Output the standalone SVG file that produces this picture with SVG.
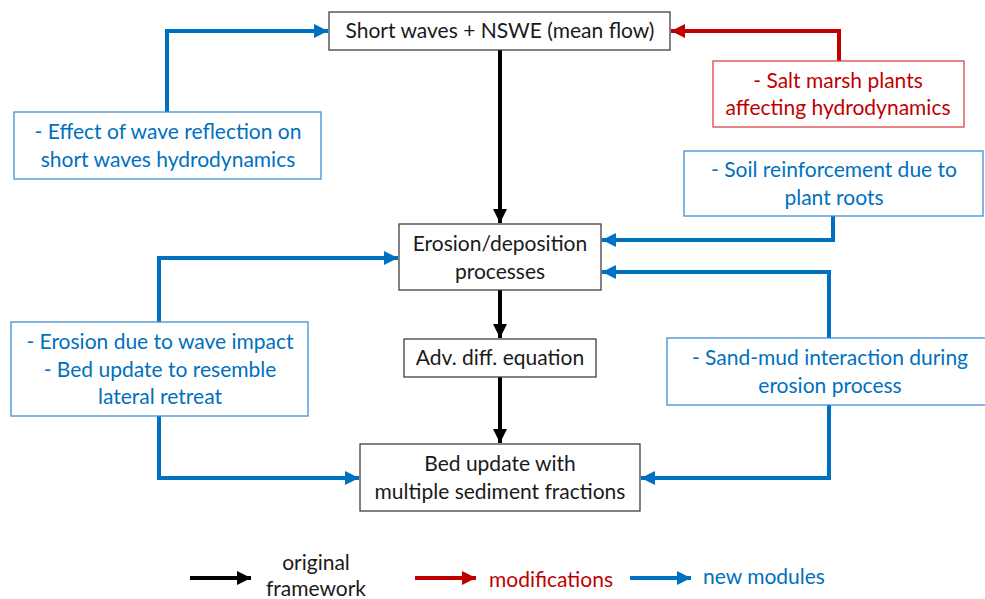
<svg xmlns="http://www.w3.org/2000/svg" width="985" height="599" viewBox="0 0 985 599">
<defs>
<style>
text{font-family:Lato,"Open Sans","Liberation Sans",sans-serif;font-size:21px;text-anchor:middle;}
.k{fill:#1a1a1a}
.b{fill:#0070C0}
.r{fill:#C00000}
.nk{fill:#fff;stroke:#404040;stroke-width:1.3}
.nb{fill:#fff;stroke:#3E8FD6;stroke-width:1.3}
.nr{fill:#fff;stroke:#D84444;stroke-width:1.3}
.ck{fill:none;stroke:#000;stroke-width:4}
.cb{fill:none;stroke:#0070C0;stroke-width:4}
.cr{fill:none;stroke:#C00000;stroke-width:4}
</style>
<marker id="ak" viewBox="0 0 10 10" refX="10" refY="5" markerWidth="3.6" markerHeight="3.6" orient="auto" markerUnits="strokeWidth"><path d="M0,0L10,5L0,10z" fill="#000"/></marker>
<marker id="ab" viewBox="0 0 10 10" refX="10" refY="5" markerWidth="3.6" markerHeight="3.6" orient="auto" markerUnits="strokeWidth"><path d="M0,0L10,5L0,10z" fill="#0070C0"/></marker>
<marker id="ar" viewBox="0 0 10 10" refX="10" refY="5" markerWidth="3.6" markerHeight="3.6" orient="auto" markerUnits="strokeWidth"><path d="M0,0L10,5L0,10z" fill="#C00000"/></marker>
</defs>
<g id="connectors">
<path class="ck" d="M500,50V223" marker-end="url(#ak)"/>
<path class="ck" d="M500,290V338" marker-end="url(#ak)"/>
<path class="ck" d="M500,377V443" marker-end="url(#ak)"/>
<path class="cr" d="M839,61V31H671" marker-end="url(#ar)"/>
<path class="cb" d="M167,112V31H328" marker-end="url(#ab)"/>
<path class="cb" d="M833,216V240H602" marker-end="url(#ab)"/>
<path class="cb" d="M159,322V258H398" marker-end="url(#ab)"/>
<path class="cb" d="M159,416V478H359" marker-end="url(#ab)"/>
<path class="cb" d="M829,338V272H602" marker-end="url(#ab)"/>
<path class="cb" d="M829,405V478H641" marker-end="url(#ab)"/>
</g>
<g id="n-short">
<rect class="nk" x="329" y="12" width="341" height="38"/>
<text class="k" x="500" y="38">Short waves + NSWE (mean flow)</text>
</g>
<g id="n-salt">
<rect class="nr" x="713" y="61" width="251" height="66"/>
<text class="r" x="838" y="88">- Salt marsh plants</text>
<text class="r" x="838" y="115">affecting hydrodynamics</text>
</g>
<g id="n-reflect">
<rect class="nb" x="14" y="112" width="307" height="67"/>
<text class="b" x="168" y="139">- Effect of wave reflection on</text>
<text class="b" x="168" y="167">short waves hydrodynamics</text>
</g>
<g id="n-soil">
<rect class="nb" x="684" y="151" width="299" height="65"/>
<text class="b" x="834" y="177">- Soil reinforcement due to</text>
<text class="b" x="834" y="205">plant roots</text>
</g>
<g id="n-erosion">
<rect class="nk" x="399" y="224" width="202" height="66"/>
<text class="k" x="500" y="251">Erosion/deposition</text>
<text class="k" x="500" y="279">processes</text>
</g>
<g id="n-wave">
<rect class="nb" x="11" y="322" width="297" height="94"/>
<text class="b" x="160" y="349">- Erosion due to wave impact</text>
<text class="b" x="160" y="377">- Bed update to resemble</text>
<text class="b" x="160" y="404">lateral retreat</text>
</g>
<g id="n-adv">
<rect class="nk" x="404" y="339" width="192" height="38"/>
<text class="k" x="500" y="365">Adv. diff. equation</text>
</g>
<g id="n-sand">
<rect class="nb" x="667" y="338" width="320" height="67"/>
<text class="b" x="830" y="365">- Sand-mud interaction during</text>
<text class="b" x="830" y="393">erosion process</text>
</g>
<g id="n-bed">
<rect class="nk" x="360" y="444" width="280" height="67"/>
<text class="k" x="500" y="471">Bed update with</text>
<text class="k" x="500" y="499">multiple sediment fractions</text>
</g>
<g id="legend">
<path class="ck" d="M190,578H251" marker-end="url(#ak)"/>
<text class="k" x="316" y="570">original</text>
<text class="k" x="316" y="596">framework</text>
<path class="cr" d="M415,578H476" marker-end="url(#ar)"/>
<text class="r" x="551" y="587">modifications</text>
<path class="cb" d="M630,578H691" marker-end="url(#ab)"/>
<text class="b" x="764" y="584">new modules</text>
</g>
</svg>
